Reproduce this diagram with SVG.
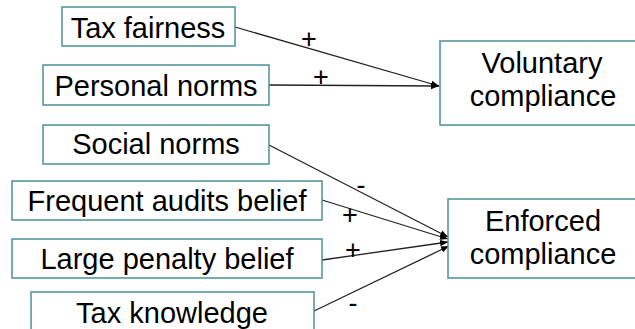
<svg xmlns="http://www.w3.org/2000/svg" width="635" height="329" viewBox="0 0 635 329">
<style>
.box{fill:#fff;stroke:#4a9196;stroke-width:1.5}
.t{font-family:"Liberation Sans",Arial,sans-serif;font-size:29px;fill:#000;text-anchor:middle}
.s{font-family:"Liberation Sans",Arial,sans-serif;font-size:27px;fill:#000;text-anchor:middle}
.c{stroke:#222;stroke-width:1.3;fill:none;marker-end:url(#ah)}
</style>
<defs>
<marker id="ah" viewBox="0 0 10 10" refX="10" refY="5" markerWidth="8" markerHeight="8" markerUnits="userSpaceOnUse" orient="auto">
<path d="M0,1 L10,5 L0,9 z" fill="#000"/>
</marker>
</defs>
<rect width="635" height="329" fill="#fff"/>
<g id="connectors">
<line class="c" x1="235" y1="27" x2="439" y2="86"/>
<line class="c" x1="269" y1="85" x2="439" y2="86"/>
<line class="c" x1="269" y1="145" x2="448" y2="237"/>
<line class="c" x1="322" y1="200" x2="448" y2="239"/>
<line class="c" x1="322" y1="260" x2="448" y2="242"/>
<line class="c" x1="314" y1="311" x2="449" y2="246"/>
<text class="s" x="309" y="48">+</text>
<text class="s" x="321" y="86">+</text>
<text class="s" x="361" y="194">-</text>
<text class="s" x="350" y="224">+</text>
<text class="s" x="353" y="259">+</text>
<text class="s" x="353" y="312">-</text>
</g>
<g id="tax-fairness"><rect class="box" x="62" y="7" width="173" height="39"/><text class="t" x="148" y="38">Tax fairness</text></g>
<g id="personal-norms"><rect class="box" x="43" y="65" width="226" height="40"/><text class="t" x="156" y="96">Personal norms</text></g>
<g id="social-norms"><rect class="box" x="43" y="125" width="226" height="39"/><text class="t" x="156" y="154">Social norms</text></g>
<g id="frequent-audits"><rect class="box" x="12" y="181" width="310" height="39"/><text class="t" x="167" y="211">Frequent audits belief</text></g>
<g id="large-penalty"><rect class="box" x="12" y="239" width="310" height="39"/><text class="t" x="167" y="269">Large penalty belief</text></g>
<g id="tax-knowledge"><rect class="box" x="31" y="292" width="283" height="45"/><text class="t" x="172" y="323">Tax knowledge</text></g>
<g id="voluntary-compliance"><rect class="box" x="440" y="41" width="200" height="84"/><text class="t" x="542" y="73">Voluntary</text><text class="t" x="543" y="106">compliance</text></g>
<g id="enforced-compliance"><rect class="box" x="448" y="199" width="192" height="79"/><text class="t" x="543" y="231">Enforced</text><text class="t" x="543" y="264">compliance</text></g>
</svg>
